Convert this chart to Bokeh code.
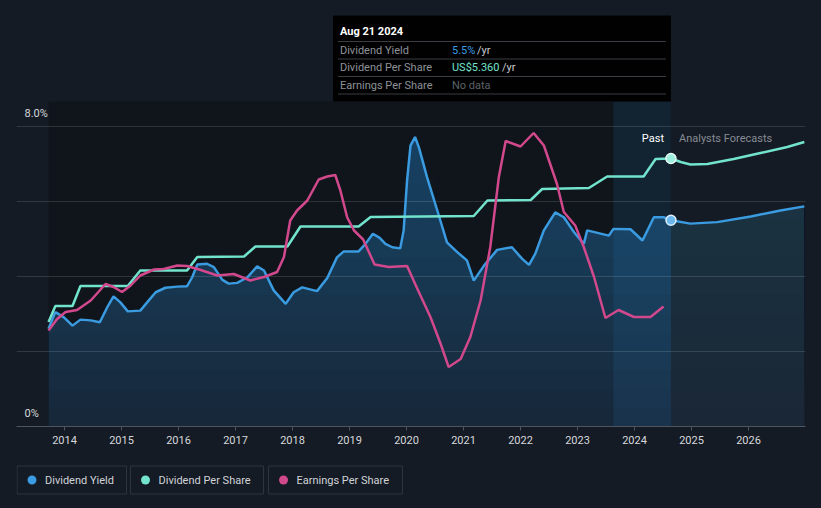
import numpy as np
from bokeh.plotting import figure
from bokeh.models import Range1d, FixedTicker, Label, CustomJSTickFormatter
from bokeh.layouts import column
from bokeh.embed import file_html
from bokeh.resources import INLINE
from bokeh.core.properties import value

# ---------------- data (decimal years) ----------------
yield_years = [2013.72, 2013.84, 2013.99, 2014.14, 2014.28, 2014.46, 2014.62, 2014.75, 2014.86, 2014.98,
               2015.11, 2015.33, 2015.45, 2015.60, 2015.77, 2015.98, 2016.15, 2016.24, 2016.33, 2016.50,
               2016.62, 2016.77, 2016.88, 2017.03, 2017.21, 2017.38, 2017.50, 2017.67, 2017.88, 2018.02,
               2018.17, 2018.43, 2018.61, 2018.78, 2018.90, 2019.16, 2019.28, 2019.41, 2019.53, 2019.63,
               2019.75, 2019.89, 2019.95, 2020.01, 2020.07, 2020.15, 2020.22, 2020.36, 2020.54, 2020.71,
               2020.89, 2021.06, 2021.18, 2021.36, 2021.59, 2021.85, 2022.03, 2022.15, 2022.26, 2022.41,
               2022.61, 2022.76, 2022.94, 2023.11, 2023.17, 2023.55, 2023.63, 2023.93, 2024.14, 2024.34,
               2024.51, 2024.64]
yield_pct = [2.61, 3.05, 2.91, 2.69, 2.85, 2.83, 2.78, 3.18, 3.47, 3.31,
             3.07, 3.09, 3.31, 3.58, 3.70, 3.73, 3.74, 3.98, 4.32, 4.34,
             4.25, 3.91, 3.81, 3.83, 3.98, 4.27, 4.16, 3.63, 3.27, 3.58,
             3.71, 3.61, 3.96, 4.51, 4.67, 4.67, 4.87, 5.14, 5.03, 4.87,
             4.78, 4.75, 5.23, 6.56, 7.49, 7.72, 7.43, 6.65, 5.76, 4.91,
             4.65, 4.43, 3.89, 4.29, 4.71, 4.78, 4.47, 4.31, 4.61, 5.23,
             5.71, 5.58, 5.18, 4.87, 5.23, 5.09, 5.27, 5.26, 4.96, 5.58,
             5.58, 5.5]
yield_fc_years = [2024.64, 2024.98, 2025.45, 2026.04, 2026.56, 2026.98]
yield_fc_pct = [5.5, 5.41, 5.45, 5.60, 5.76, 5.87]

dps_years = [2013.72, 2013.84, 2014.14, 2014.28, 2015.11, 2015.33, 2016.15, 2016.33, 2017.15, 2017.35,
             2017.91, 2018.14, 2019.16, 2019.37, 2021.18, 2021.42, 2022.18, 2022.38, 2023.20, 2023.52,
             2024.16, 2024.37, 2024.64]
dps_usd = [2.09, 2.41, 2.41, 2.81, 2.81, 3.12, 3.12, 3.39, 3.40, 3.60,
           3.60, 4.00, 4.00, 4.19, 4.21, 4.52, 4.53, 4.75, 4.77, 5.00,
           5.00, 5.35, 5.36]
dps_fc_years = [2024.64, 2024.81, 2024.98, 2025.28, 2025.74, 2026.21, 2026.68, 2026.98]
dps_fc_usd = [5.36, 5.29, 5.24, 5.25, 5.35, 5.47, 5.59, 5.69]

eps_years = [2013.72, 2013.87, 2014.02, 2014.22, 2014.46, 2014.72, 2014.86, 2015.01, 2015.16, 2015.33,
             2015.57, 2015.74, 2015.98, 2016.15, 2016.39, 2016.68, 2016.97, 2017.26, 2017.50, 2017.73,
             2017.85, 2017.96, 2018.08, 2018.26, 2018.46, 2018.61, 2018.75, 2018.84, 2018.96, 2019.08,
             2019.24, 2019.44, 2019.69, 2020.01, 2020.18, 2020.42, 2020.60, 2020.74, 2020.95, 2021.12,
             2021.30, 2021.47, 2021.62, 2021.74, 2022.00, 2022.23, 2022.41, 2022.64, 2022.76, 2022.96,
             2023.11, 2023.29, 2023.49, 2023.72, 2023.99, 2024.28, 2024.51]
eps_usd = [1.92, 2.15, 2.29, 2.33, 2.52, 2.85, 2.79, 2.69, 2.82, 3.02,
           3.14, 3.15, 3.22, 3.21, 3.13, 3.02, 3.05, 2.92, 2.99, 3.09,
           3.39, 4.12, 4.32, 4.52, 4.94, 5.00, 5.03, 4.72, 4.18, 3.92,
           3.74, 3.24, 3.19, 3.21, 2.78, 2.19, 1.65, 1.19, 1.35, 1.79,
           2.52, 3.59, 4.99, 5.71, 5.60, 5.87, 5.62, 4.85, 4.29, 4.02,
           3.59, 2.99, 2.17, 2.33, 2.19, 2.19, 2.40]

year_ticks = list(range(2014, 2027))
grid_pct = [2, 4, 6, 8]
hover_year = 2024.64
hover_date = "Aug 21 2024"
hover_yield = "5.5%"
hover_dps = "US$5.360"
past_start = 2023.63  # start of highlighted last-year band

# ---------------- style / layout constants ----------------
W, H_MAIN, H_LEG = 821, 450, 58
BG = "#151b24"
C_YIELD, C_DPS, C_EPS = "#3a9be0", "#72e3cc", "#d2488c"
FONT = "Roboto"
FRAME_L, FRAME_R, FRAME_H = 16, 805, 426
PX_PER_YEAR = 57.0
X_START = 2014 - (64 - FRAME_L) / PX_PER_YEAR
X_END = X_START + (FRAME_R - FRAME_L) / PX_PER_YEAR
PX_PER_PCT = 37.5
PX_PER_USD = 50.0
TOP_PCT = (FRAME_H - 101) / PX_PER_PCT


def xd(px):
    return X_START + (px - FRAME_L) / PX_PER_YEAR


def yd(py):
    return (FRAME_H - py) / PX_PER_PCT


p = figure(width=W, height=H_MAIN, output_backend="svg", toolbar_location=None,
           x_range=Range1d(X_START, X_END), y_range=Range1d(0, FRAME_H / PX_PER_PCT),
           min_border_left=FRAME_L, min_border_right=W - FRAME_R, min_border_top=0,
           min_border_bottom=H_MAIN - FRAME_H)
p.extra_y_ranges = {"usd": Range1d(0, FRAME_H / PX_PER_USD)}
p.background_fill_color = BG
p.border_fill_color = BG
p.outline_line_color = None
p.xgrid.visible = False
p.ygrid.visible = False
p.yaxis.visible = False

xa = p.xaxis[0]
xa.ticker = FixedTicker(ticks=year_ticks)
xa.formatter = CustomJSTickFormatter(code="return String(Math.round(tick));")
xa.axis_line_color = "#4e555e"
xa.major_tick_line_color = "#4e555e"
xa.major_tick_out = 4
xa.major_tick_in = 0
xa.minor_tick_line_color = None
xa.major_label_text_color = "#d6d8dc"
xa.major_label_text_font = FONT
xa.major_label_text_font_size = "11px"
xa.major_label_standoff = 5

# darker past region
p.quad(left=[yield_years[0]], right=[hover_year], bottom=[0], top=[TOP_PCT],
       fill_color="#10151c", line_color=None)

# gradient fill under dividend yield
yp = np.array(yield_pct)
yf = np.array(yield_fc_pct)
p.varea(x=yield_years, y1=0, y2=yield_pct, fill_color="#17283a")
p.varea(x=yield_fc_years, y1=0, y2=yield_fc_pct, fill_color="#1a2736")
for lvl in np.arange(0.5, 8.0, 0.5):
    p.varea(x=yield_years, y1=np.full(len(yp), lvl), y2=np.maximum(yp, lvl),
            fill_color="#2a6aa0", fill_alpha=0.035)
    p.varea(x=yield_fc_years, y1=np.full(len(yf), lvl), y2=np.maximum(yf, lvl),
            fill_color="#3a6080", fill_alpha=0.02)

# highlighted last-year band
p.quad(left=[past_start], right=[hover_year], bottom=[0], top=[TOP_PCT],
       fill_color="#2a80c8", fill_alpha=0.13, line_color=None)

# grid lines
p.hspan(y=grid_pct, line_color="#ffffff", line_alpha=0.13, line_width=1)

# lines
p.line(yield_years, yield_pct, line_color=C_YIELD, line_width=2.5)
p.line(yield_fc_years, yield_fc_pct, line_color=C_YIELD, line_width=2.5)
p.line(dps_years, dps_usd, line_color=C_DPS, line_width=2.5, y_range_name="usd")
p.line(dps_fc_years, dps_fc_usd, line_color=C_DPS, line_width=2.5, y_range_name="usd")
p.line(eps_years, eps_usd, line_color=C_EPS, line_width=2.5, y_range_name="usd")

# hover markers
p.scatter([hover_year], [yield_pct[-1]], size=10, fill_color="#6cb8ec",
          line_color="#dceffc", line_width=1.5)
p.scatter([hover_year], [dps_usd[-1]], size=10, fill_color="#9cefdd",
          line_color="#e6fbf6", line_width=1.5, y_range_name="usd")

# y labels
for v, t in [(8, "8.0%"), (0, "0%")]:
    p.add_layout(Label(x=xd(24), y=v, y_offset=7, text=t, text_color="#d6d8dc",
                       text_font=FONT, text_font_size="11px", text_baseline="bottom"))

# Past / forecast labels
p.add_layout(Label(x=hover_year, x_offset=-7, y=yd(138), text="Past", text_color="#ffffff",
                   text_font=FONT, text_font_size="11px", text_align="right", text_baseline="middle"))
p.add_layout(Label(x=hover_year, x_offset=8, y=yd(138), text="Analysts Forecasts", text_color="#868c95",
                   text_font=FONT, text_font_size="11px", text_align="left", text_baseline="middle"))

# tooltip box
tt_left = hover_year - (670 - 332) / PX_PER_YEAR
p.quad(left=[tt_left], right=[hover_year], bottom=[yd(101)], top=[yd(15)],
       fill_color="#000000", fill_alpha=0.95, line_color=None)
p.segment(x0=[tt_left + 5 / PX_PER_YEAR] * 4, x1=[hover_year - 5 / PX_PER_YEAR] * 4,
          y0=[yd(41), yd(58.5), yd(76), yd(93.5)], y1=[yd(41), yd(58.5), yd(76), yd(93.5)],
          line_color="#3a3d42", line_width=1)
tx = tt_left + 7 / PX_PER_YEAR
vx = tt_left + 119 / PX_PER_YEAR


def lab(x, py, text, color, size="11px", style="normal"):
    p.add_layout(Label(x=x, y=yd(py), text=text, text_color=color, text_font=FONT,
                       text_font_size=size, text_baseline="middle", text_font_style=style))


lab(tx, 31, hover_date, "#ffffff", "11px", "bold")
lab(tx, 49.5, "Dividend Yield", "#8d9299")
lab(tx, 67, "Dividend Per Share", "#8d9299")
lab(tx, 84.5, "Earnings Per Share", "#8d9299")
lab(vx, 49.5, hover_yield, C_YIELD)
lab(vx + 25 / PX_PER_YEAR, 49.5, "/yr", "#c8cbd0")
lab(vx, 67, hover_dps, C_DPS)
lab(vx + 50 / PX_PER_YEAR, 67, "/yr", "#c8cbd0")
lab(vx, 84.5, "No data", "#5c6168")

# ---------------- legend figure ----------------
# (the column aligns this frame with the main frame, so its x range is in page pixels)
leg = figure(width=W, height=H_LEG, output_backend="svg", toolbar_location=None,
             x_range=Range1d(FRAME_L, FRAME_R), y_range=Range1d(H_LEG, 0),
             x_axis_location=None, y_axis_location=None,
             min_border=0, min_border_left=FRAME_L, min_border_right=W - FRAME_R,
             min_border_top=0, min_border_bottom=0)
leg.xgrid.visible = False
leg.ygrid.visible = False
leg.outline_line_color = None
leg.background_fill_color = BG
leg.border_fill_color = BG

legend_names = ["Dividend Yield", "Dividend Per Share", "Earnings Per Share"]
legend_colors = [C_YIELD, C_DPS, C_EPS]
box_l = [16.5, 130, 268]
box_r = [126, 263, 402]
leg.quad(left=box_l, right=box_r, top=[15.5] * 3, bottom=[43.5] * 3,
         fill_color=None, line_color="#2d343e", line_width=1)
leg.scatter([l + 15 for l in box_l], [29.5] * 3, size=9, fill_color=legend_colors, line_color=None)
leg.text([l + 28 for l in box_l], [29.5] * 3, text=legend_names, text_color="#d0d3d8",
         text_font=value(FONT), text_font_size="11px", text_baseline="middle")

layout = column(p, leg, spacing=0)
layout.styles = {"background-color": BG}
open("out.html", "w").write(file_html(layout, INLINE))
